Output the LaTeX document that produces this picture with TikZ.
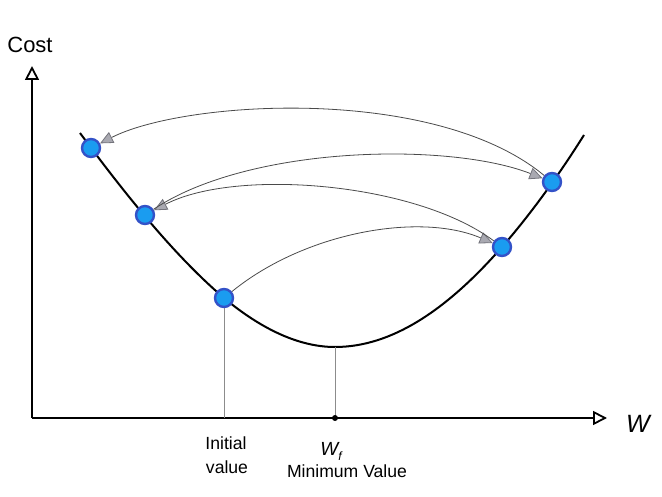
\documentclass[tikz,border=0pt]{standalone}
\usepackage{fontspec}
\setmainfont{Liberation Sans}
\usetikzlibrary{arrows.meta}
\definecolor{ptfill}{HTML}{1A9CF0}
\definecolor{ptborder}{HTML}{3352C8}
\definecolor{linegray}{HTML}{4A4A4A}
\definecolor{tipfill}{HTML}{A9A9B1}
\definecolor{tipdraw}{HTML}{74747C}
\definecolor{guidegray}{HTML}{8C8C8C}
\tikzset{
  ptnode/.style={circle, draw=ptborder, fill=ptfill, line width=2.4pt, minimum size=18pt, inner sep=0pt},
  jump/.style={draw=linegray, line width=0.8pt, -{Triangle[length=13pt,width=12pt,fill=tipfill,color=tipdraw]}},
  axis/.style={line width=2.4pt, -{Triangle[open,length=14pt,width=14pt,line width=1.8pt]}},
  guide/.style={draw=guidegray, line width=1pt},
  costcurve/.style={line width=2pt, black},
  lbl/.style={inner sep=0pt, anchor=base, font=\fontsize{17.6}{20}\selectfont}
}
\begin{document}
\begin{tikzpicture}[x=1pt,y=-1pt]
\useasboundingbox (0,0) rectangle (662,497);
% axes
\coordinate (origin) at (32,418);
\coordinate (ytip) at (32,66);
\coordinate (xtip) at (607,418);
\draw[axis] (origin) -- (ytip);
\draw[axis] (origin) -- (xtip);
\node[inner sep=0pt, font=\fontsize{22}{26}\selectfont] (costlbl) at (30,45) {Cost};
\node[inner sep=0pt, anchor=base, font=\fontsize{25}{28}\selectfont\itshape] (wlbl) at (638,432) {W};
% guide lines
\coordinate (g1b) at (224,418);
\coordinate (g2b) at (335,418);
\coordinate (g2t) at (335,347);
% curve
\coordinate (cstart) at (80,133);
\coordinate (cend) at (584,135);
\draw[costcurve] (cstart) .. controls (128,198) and (176,257) .. (224,298)
  .. controls (260,328) and (298,347) .. (g2t)
  .. controls (391,347) and (446,311) .. (502,247)
  .. controls (529,216) and (557,178) .. (cend);
\node[ptnode] (p1) at (91,148) {};
\node[ptnode] (p2) at (145,215) {};
\node[ptnode] (p3) at (224,298) {};
\node[ptnode] (p4) at (502,247) {};
\node[ptnode] (p5) at (552,182) {};
\draw[guide] (p3) -- (g1b);
\draw[guide] (g2t) -- (g2b);
\node[circle, fill, inner sep=0pt, minimum size=6pt] (wfdot) at (g2b) {};
% jumps
\draw[jump] (p3) .. controls (305,232) and (420,212) .. (p4);
\draw[jump] (p4) .. controls (415,182) and (235,168) .. (p2);
\draw[jump] (p2) .. controls (250,145) and (450,142) .. (p5);
\draw[jump] (p5) .. controls (435,85) and (185,100) .. (p1);
% labels
\node[lbl] (init1) at (226,449) {Initial};
\node[lbl] (init2) at (227,473) {value};
\node[inner sep=0pt, anchor=base, font=\fontsize{19}{22}\selectfont\itshape] (wf) at (331,455) {W\raisebox{-0.3em}{\fontsize{12}{12}\selectfont f}};
\node[lbl] (minval) at (347,477) {Minimum Value};
\end{tikzpicture}
\end{document}
